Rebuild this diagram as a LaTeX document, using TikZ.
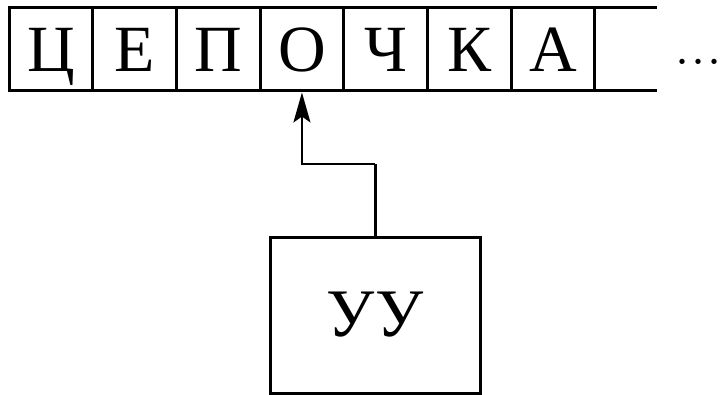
\documentclass[tikz,border=0pt]{standalone}
\usepackage{fontspec}
\newfontfamily\cyr{Liberation Serif}
\usetikzlibrary{arrows.meta}
\begin{document}
\begin{tikzpicture}[x=0.5pt,y=-0.5pt,
  cell/.style={draw,line width=1.5pt,outer sep=0pt,minimum width=41.85pt,minimum height=41.5pt,inner sep=0pt,
    font=\cyr\fontsize{33}{40}\selectfont,text height=21.9pt,text depth=0pt},
  ctrl/.style={draw,line width=1.5pt,outer sep=0pt,minimum width=105pt,minimum height=78pt,inner sep=0pt,
    font=\cyr\fontsize{34}{40}\selectfont},
  tapeline/.style={line width=1.5pt},
  link/.style={line width=1pt}]
\useasboundingbox (0,0) rectangle (727,395);
\foreach \i/\l in {1/Ц,2/Е,3/П,4/О,5/Ч,6/К,7/А}
  \node[cell] (c\i) at ({9+83.7*(\i-0.5)},49.5) {\l};
\draw[tapeline] (c7.north east) -- ++(62,0);
\draw[tapeline] (c7.south east) -- ++(62,0);
\node[anchor=base west,inner sep=0pt,font=\fontsize{32}{38}\selectfont] (dots) at (674,64.5) {...};
\node[ctrl] (b) at (375,315) {УУ};
\coordinate (k) at (0,164);
\draw[line width=1.5pt] (b.north) -- (b.north |- k);
\draw[link,-{Stealth[length=15pt,width=8.5pt,inset=3pt]}] (b.north |- k) -- (c4.south |- k) -- ([yshift=-0.75pt]c4.south);
\end{tikzpicture}
\end{document}
